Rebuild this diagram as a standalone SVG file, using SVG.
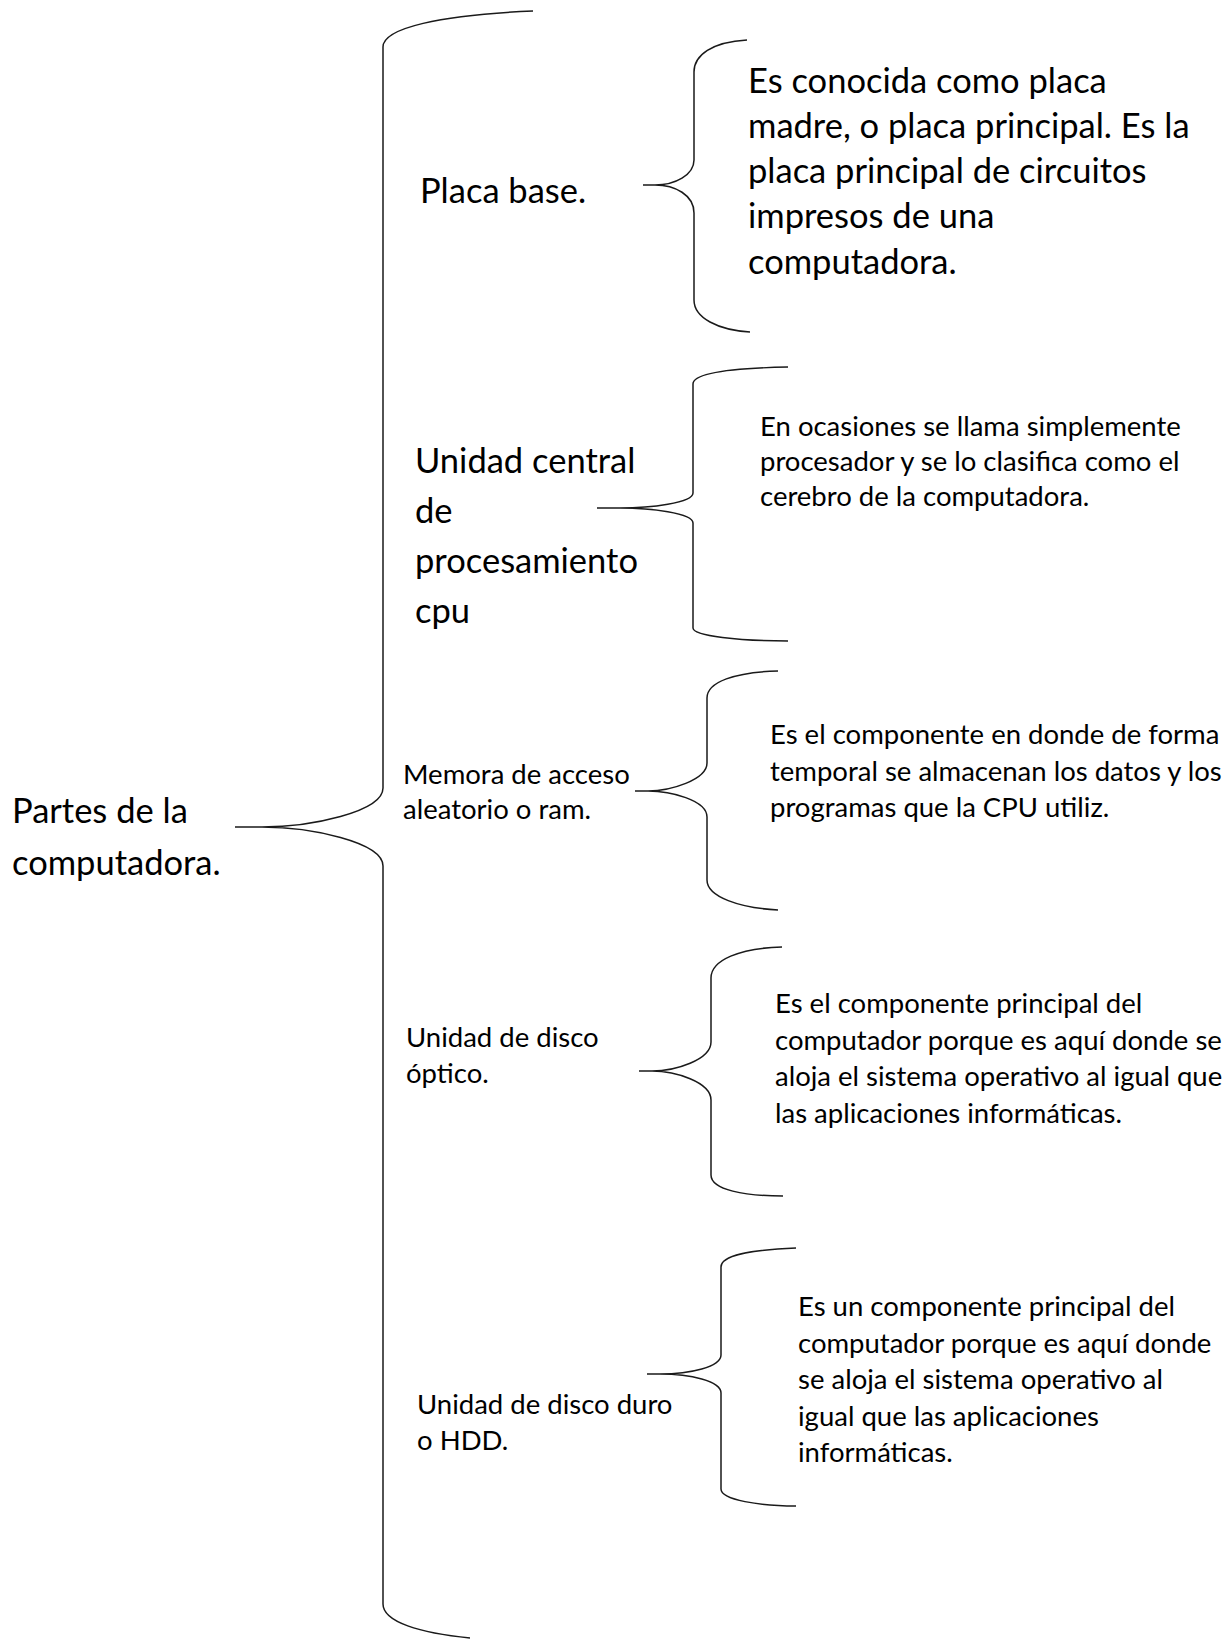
<svg xmlns="http://www.w3.org/2000/svg" width="1229" height="1639" viewBox="0 0 1229 1639">
<style>
text { font-family: Lato, "Open Sans", "Liberation Sans", sans-serif; fill: #000; }
.lg { font-size: 34.5px; }
.sm { font-size: 27.5px; }
.brace { fill: none; stroke: #1a1a1a; stroke-width: 1.5; stroke-linecap: butt; }
</style>
<rect width="1229" height="1639" fill="#fff"/>
<g id="connectors">
<path class="brace" d="M533,11 C440,15 383,28 383,47 L383,788 C383,812 310,827 262,827 L235,827 M262,827 C310,827 383,842 383,866 L383,1604 C383,1622 420,1633 470,1638"/>
<path class="brace" d="M747,40 C712,42 694,55 694,72 L694,160 C694,175 675,185 655,185 L643,185 M655,185 C675,185 694,195 694,213 L694,300 C694,318 718,330 750,332"/>
<path class="brace" d="M788,367 C740,368 693,372 693,384 L693,493 C693,503 650,508 620,508 L597,508 M620,508 C650,508 693,513 693,523 L693,628 C693,636 740,641 788,641"/>
<path class="brace" d="M778,671 C735,672 707,682 707,698 L707,763 C707,780 670,791 648,791 L635,791 M648,791 C670,791 707,800 707,817 L707,880 C707,897 740,908 778,910"/>
<path class="brace" d="M782,947 C740,948 711,960 711,978 L711,1042 C711,1060 675,1071 652,1071 L639,1071 M652,1071 C675,1071 711,1082 711,1100 L711,1175 C711,1190 745,1196 783,1196"/>
<path class="brace" d="M796,1248 C750,1250 721,1255 721,1267 L721,1355 C721,1367 690,1374 660,1374 L647,1374 M660,1374 C690,1374 721,1381 721,1393 L721,1489 C721,1500 760,1506 796,1506"/>
</g>
<g id="root">
<text class="lg" x="12" y="823">Partes de la</text>
<text class="lg" x="12" y="875">computadora.</text>
</g>
<g id="placa-base">
<text class="lg" x="420" y="203">Placa base.</text>
</g>
<g id="placa-base-desc">
<text class="lg" x="748" y="93">Es conocida como placa</text>
<text class="lg" x="748" y="138">madre, o placa principal. Es la</text>
<text class="lg" x="748" y="183">placa principal de circuitos</text>
<text class="lg" x="748" y="228">impresos de una</text>
<text class="lg" x="748" y="274">computadora.</text>
</g>
<g id="cpu">
<text class="lg" x="415" y="473">Unidad central</text>
<text class="lg" x="415" y="523">de</text>
<text class="lg" x="415" y="573">procesamiento</text>
<text class="lg" x="415" y="623">cpu</text>
</g>
<g id="cpu-desc">
<text class="sm" x="760" y="436">En ocasiones se llama simplemente</text>
<text class="sm" x="760" y="471">procesador y se lo clasifica como el</text>
<text class="sm" x="760" y="506">cerebro de la computadora.</text>
</g>
<g id="ram">
<text class="sm" x="403" y="784">Memora de acceso</text>
<text class="sm" x="403" y="819">aleatorio o ram.</text>
</g>
<g id="ram-desc">
<text class="sm" x="770" y="744">Es el componente en donde de forma</text>
<text class="sm" x="770" y="780.5">temporal se almacenan los datos y los</text>
<text class="sm" x="770" y="817">programas que la CPU utiliz.</text>
</g>
<g id="optico">
<text class="sm" x="406" y="1047">Unidad de disco</text>
<text class="sm" x="406" y="1083">óptico.</text>
</g>
<g id="optico-desc">
<text class="sm" x="775" y="1013">Es el componente principal del</text>
<text class="sm" x="775" y="1049.5">computador porque es aquí donde se</text>
<text class="sm" x="775" y="1086">aloja el sistema operativo al igual que</text>
<text class="sm" x="775" y="1122.5">las aplicaciones informáticas.</text>
</g>
<g id="hdd">
<text class="sm" x="417" y="1414">Unidad de disco duro</text>
<text class="sm" x="417" y="1450">o HDD.</text>
</g>
<g id="hdd-desc">
<text class="sm" x="798" y="1316">Es un componente principal del</text>
<text class="sm" x="798" y="1352.5">computador porque es aquí donde</text>
<text class="sm" x="798" y="1389">se aloja el sistema operativo al</text>
<text class="sm" x="798" y="1425.5">igual que las aplicaciones</text>
<text class="sm" x="798" y="1462">informáticas.</text>
</g>
</svg>
